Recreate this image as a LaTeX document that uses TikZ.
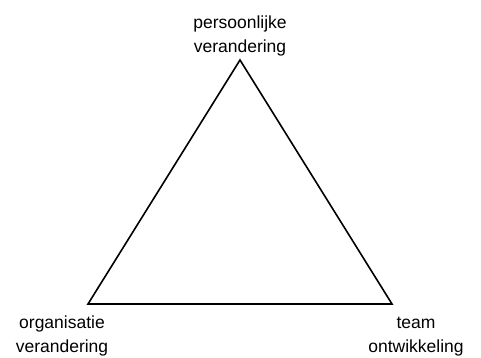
\documentclass[tikz,border=0pt]{standalone}
\usepackage{fontspec}
\setmainfont{Liberation Sans}
\begin{document}
\begin{tikzpicture}[x=1pt,y=1pt,
  lbl/.style={align=center,font=\fontsize{17.5}{24}\selectfont,inner sep=0pt,anchor=base},
  edge/.style={line width=1.6pt,line join=miter}]
\useasboundingbox (0,0) rectangle (481,358);
\coordinate (top) at (240,298);
\coordinate (bl) at (88,54);
\coordinate (br) at (392,54);
\draw[edge] (top) -- (bl) -- (br) -- cycle;
\node[lbl] (ltop) at (240,305) {persoonlijke\\verandering};
\node[lbl] (lbl) at (62,5) {organisatie\\verandering};
\node[lbl] (lbr) at (416,5) {team\\ontwikkeling};
\end{tikzpicture}
\end{document}
